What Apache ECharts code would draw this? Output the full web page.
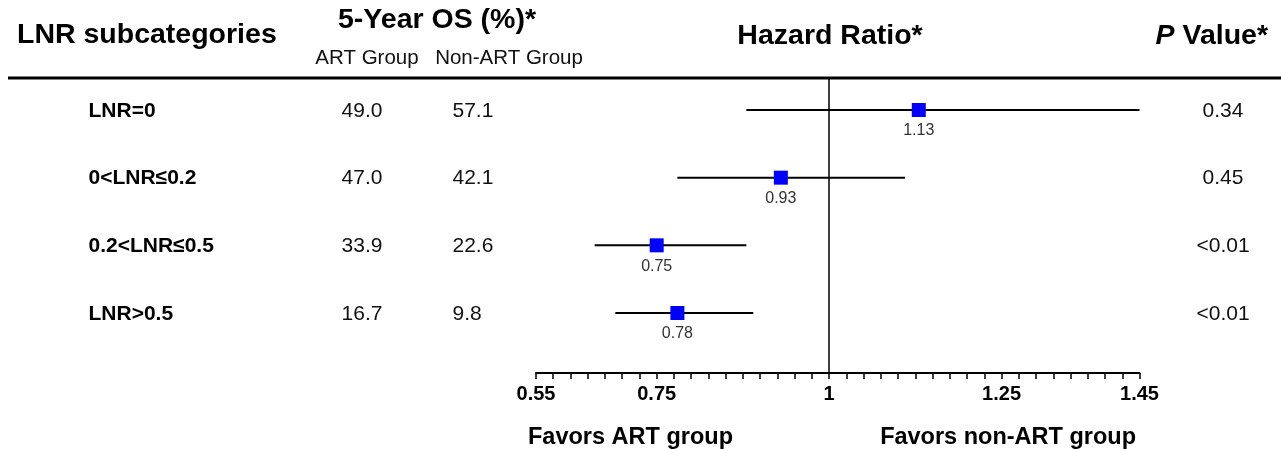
<!DOCTYPE html>
<html><head><meta charset="utf-8">
<script src="https://cdn.jsdelivr.net/npm/echarts/dist/echarts.min.js"></script>
<style>html,body{margin:0;padding:0;background:#fff}#c{width:1281px;height:451px}</style>
</head><body><div id="c"></div>
<script>
// ---- data ----
const categories = ['LNR=0', '0<LNR≤0.2', '0.2<LNR≤0.5', 'LNR>0.5'];
const artOS = ['49.0', '47.0', '33.9', '16.7'];
const nonArtOS = ['57.1', '42.1', '22.6', '9.8'];
const hazardRatio = [1.13, 0.93, 0.75, 0.78];
const ciLower = [0.88, 0.78, 0.66, 0.69];
const ciUpper = [1.45, 1.11, 0.88, 0.89];
const pValues = ['0.34', '0.45', '<0.01', '<0.01'];
const tickValues = [0.575, 0.75, 1, 1.25, 1.45];
const tickLabels = ['0.55', '0.75', '1', '1.25', '1.45'];

// ---- layout (pixels) ----
const FONT = 'Liberation Sans, Arial, Helvetica, sans-serif';
const col = { label: 88, art: 362, nonArt: 452, p: 1223 };
const plotTop = 78, plotBottom = 373, W = 1281, H = 451;

const chart = echarts.init(document.getElementById('c'), null, { renderer: 'canvas' });

const yAxisCommon = { type: 'value', inverse: true, min: -0.473, max: 3.887, show: false };

function textSeries(xs, texts, opts) {
  return {
    type: 'scatter', xAxisIndex: 1, yAxisIndex: 1, silent: true,
    symbolSize: 1, itemStyle: { color: 'rgba(0,0,0,0)', opacity: 1 },
    data: texts.map((t, i) => [xs, i, t]),
    label: Object.assign({
      show: true, color: '#111', fontFamily: FONT, fontSize: 21, offset: [0, 1],
      formatter: p => p.data[2]
    }, opts)
  };
}

const option = {
  animation: false,
  backgroundColor: '#fff',
  grid: [
    { left: 536, right: W - 1139.5, top: plotTop, height: plotBottom - plotTop, containLabel: false, outerBoundsMode: 'none' },
    { left: 0, right: 0, top: plotTop, height: plotBottom - plotTop, containLabel: false, outerBoundsMode: 'none' }
  ],
  xAxis: [
    {
      type: 'value', gridIndex: 0, min: 0.575, max: 1.45, interval: 0.025,
      splitLine: { show: false },
      axisLine: { show: true, onZero: false, lineStyle: { color: '#000', width: 2 } },
      axisTick: { show: true, inside: false, length: 6, lineStyle: { color: '#000', width: 1.5 } },
      axisLabel: {
        show: true, interval: 0, showMinLabel: true, showMaxLabel: true, margin: 11,
        color: '#000', fontFamily: FONT, fontSize: 20, fontWeight: 'bold',
        formatter: v => {
          const k = tickValues.findIndex(t => Math.abs(t - v) < 1e-6);
          return k < 0 ? '' : tickLabels[k];
        }
      }
    },
    { type: 'value', gridIndex: 1, min: 0, max: W, show: false }
  ],
  yAxis: [
    Object.assign({ gridIndex: 0 }, yAxisCommon),
    Object.assign({ gridIndex: 1 }, yAxisCommon)
  ],
  series: [
    {
      type: 'custom', xAxisIndex: 0, yAxisIndex: 0, silent: true,
      data: ciLower.map((lo, i) => [lo, ciUpper[i], i]),
      encode: { x: [0, 1], y: 2 },
      renderItem: (params, api) => {
        const a = api.coord([api.value(0), api.value(2)]);
        const b = api.coord([api.value(1), api.value(2)]);
        return { type: 'line', shape: { x1: a[0], y1: a[1], x2: b[0], y2: b[1] },
                 style: { stroke: '#000', lineWidth: 2 } };
      },
      markLine: {
        silent: true, symbol: 'none', label: { show: false },
        lineStyle: { color: '#000', width: 1.5, type: 'solid' },
        data: [{ xAxis: 1 }]
      },
      z: 2
    },
    {
      type: 'scatter', xAxisIndex: 0, yAxisIndex: 0, silent: true,
      symbol: 'rect', symbolSize: 14,
      itemStyle: { color: '#0000ff', opacity: 1 },
      data: hazardRatio.map((v, i) => [v, i]),
      label: {
        show: true, position: 'bottom', distance: 6,
        color: '#333', fontFamily: FONT, fontSize: 16,
        formatter: p => p.data[0].toFixed(2)
      },
      z: 5
    },
    textSeries(col.label, categories, { position: 'right', distance: 0, fontWeight: 'bold', color: '#000' }),
    textSeries(col.art, artOS, { position: 'inside' }),
    textSeries(col.nonArt, nonArtOS, { position: 'right', distance: 0 }),
    textSeries(col.p, pValues, { position: 'inside' })
  ],
  graphic: [
    { type: 'line', silent: true, shape: { x1: 8, y1: plotTop, x2: W, y2: plotTop },
      style: { stroke: '#000', lineWidth: 3 } },
    { type: 'text', x: 17, y: 35, style: { text: 'LNR subcategories', font: 'bold 28.5px ' + FONT, fill: '#000', verticalAlign: 'middle' } },
    { type: 'text', x: 437, y: 20, style: { text: '5-Year OS (%)*', font: 'bold 28.5px ' + FONT, fill: '#000', align: 'center', verticalAlign: 'middle' } },
    { type: 'text', x: 367, y: 58, style: { text: 'ART Group', font: '20.5px ' + FONT, fill: '#111', align: 'center', verticalAlign: 'middle' } },
    { type: 'text', x: 509, y: 58, style: { text: 'Non-ART Group', font: '20.5px ' + FONT, fill: '#111', align: 'center', verticalAlign: 'middle' } },
    { type: 'text', x: 830, y: 36, style: { text: 'Hazard Ratio*', font: 'bold 28.5px ' + FONT, fill: '#000', align: 'center', verticalAlign: 'middle' } },
    { type: 'text', x: 1268, y: 36, style: {
        text: '{i|P} Value*', align: 'right', verticalAlign: 'middle',
        rich: { i: { font: 'italic bold 28.5px ' + FONT, fill: '#000' } },
        font: 'bold 28.5px ' + FONT, fill: '#000' } },
    { type: 'text', x: 528, y: 438, style: { text: 'Favors ART group', font: 'bold 23.5px ' + FONT, fill: '#000', verticalAlign: 'middle' } },
    { type: 'text', x: 1136, y: 438, style: { text: 'Favors non-ART group', font: 'bold 23.5px ' + FONT, fill: '#000', align: 'right', verticalAlign: 'middle' } }
  ]
};
chart.setOption(option);
</script>
</body></html>
